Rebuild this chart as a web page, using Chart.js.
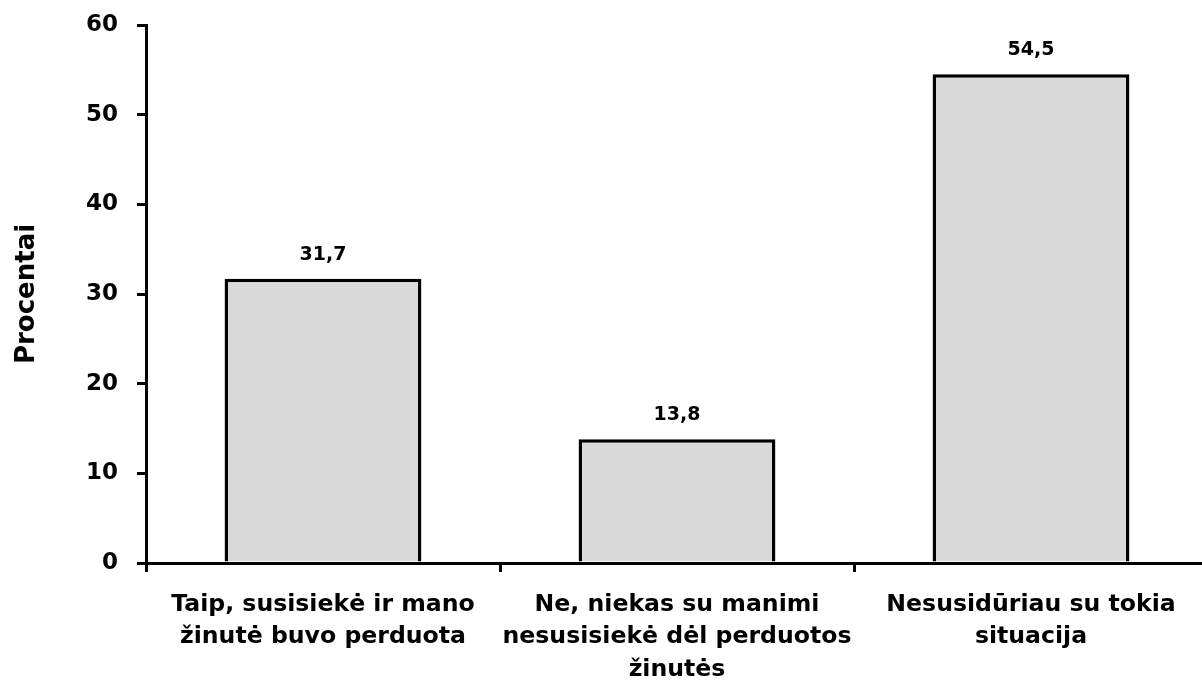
<!DOCTYPE html>
<html lang="lt">
<head>
<meta charset="utf-8">
<title>Procentai</title>
<script src="https://cdn.jsdelivr.net/npm/chart.js@4.4.1/dist/chart.umd.min.js"></script>
<style>
  html, body { margin: 0; padding: 0; background: #fff; overflow: hidden; }
  #wrap { width: 1210px; height: 680px; }
</style>
</head>
<body>
<div id="wrap"><canvas id="c" width="1210" height="680"></canvas></div>
<script>
// Survey answers and their shares (%)
const categories = [
  ['Taip, susisiekė ir mano', 'žinutė buvo perduota'],
  ['Ne, niekas su manimi', 'nesusisiekė dėl perduotos', 'žinutės'],
  ['Nesusidūriau su tokia', 'situacija']
];
const values = [31.7, 13.8, 54.5];
const valueLabels = ['31,7', '13,8', '54,5'];
const yTicks = [0, 10, 20, 30, 40, 50, 60];

const FONT = "'DejaVu Sans', Verdana, sans-serif";

// Writes the value above each bar
const barValues = {
  id: 'barValues',
  afterDatasetsDraw(chart) {
    const ctx = chart.ctx;
    const meta = chart.getDatasetMeta(0);
    ctx.save();
    ctx.font = 'bold 19px ' + FONT;
    ctx.fillStyle = '#000';
    ctx.textAlign = 'center';
    ctx.textBaseline = 'middle';
    meta.data.forEach((bar, i) => {
      ctx.fillText(valueLabels[i], bar.x, bar.y - 24);
    });
    ctx.restore();
  }
};

new Chart(document.getElementById('c'), {
  type: 'bar',
  data: {
    labels: categories,
    datasets: [{
      data: values,
      backgroundColor: '#d9d9d9',
      borderColor: '#000',
      borderWidth: 3.5,
      categoryPercentage: 1,
      barPercentage: 0.556
    }]
  },
  options: {
    responsive: false,
    animation: false,
    events: [],
    layout: { padding: { top: 25, right: 2, left: 0, bottom: 0 } },
    plugins: { legend: { display: false }, tooltip: { enabled: false } },
    scales: {
      x: {
        border: { display: true, color: '#000', width: 3 },
        grid: {
          offset: true,
          drawOnChartArea: false,
          drawTicks: true,
          tickLength: 9,
          color: '#000',
          lineWidth: 3
        },
        ticks: {
          color: '#000',
          font: { family: FONT, size: 23.6, weight: 'bold', lineHeight: 1.39 },
          padding: 16,
          maxRotation: 0,
          autoSkip: false
        },
        afterFit(scale) { scale.height = 117; }
      },
      y: {
        min: 0,
        max: 60,
        afterBuildTicks(scale) { scale.ticks = yTicks.map(v => ({ value: v })); },
        border: { display: true, color: '#000', width: 3 },
        grid: {
          drawOnChartArea: false,
          drawTicks: true,
          tickLength: 9,
          color: '#000',
          lineWidth: 3
        },
        ticks: {
          color: '#000',
          font: { family: FONT, size: 23, weight: 'bold' },
          padding: 19
        },
        title: {
          display: true,
          text: 'Procentai',
          color: '#000',
          font: { family: FONT, size: 26, weight: 'bold' },
          padding: { top: 12, bottom: 0 }
        },
        afterFit(scale) {
          scale.width = 146;
          scale.paddingTop = 0;
          scale.paddingBottom = 0;
        }
      }
    }
  },
  plugins: [barValues]
});
</script>
</body>
</html>
